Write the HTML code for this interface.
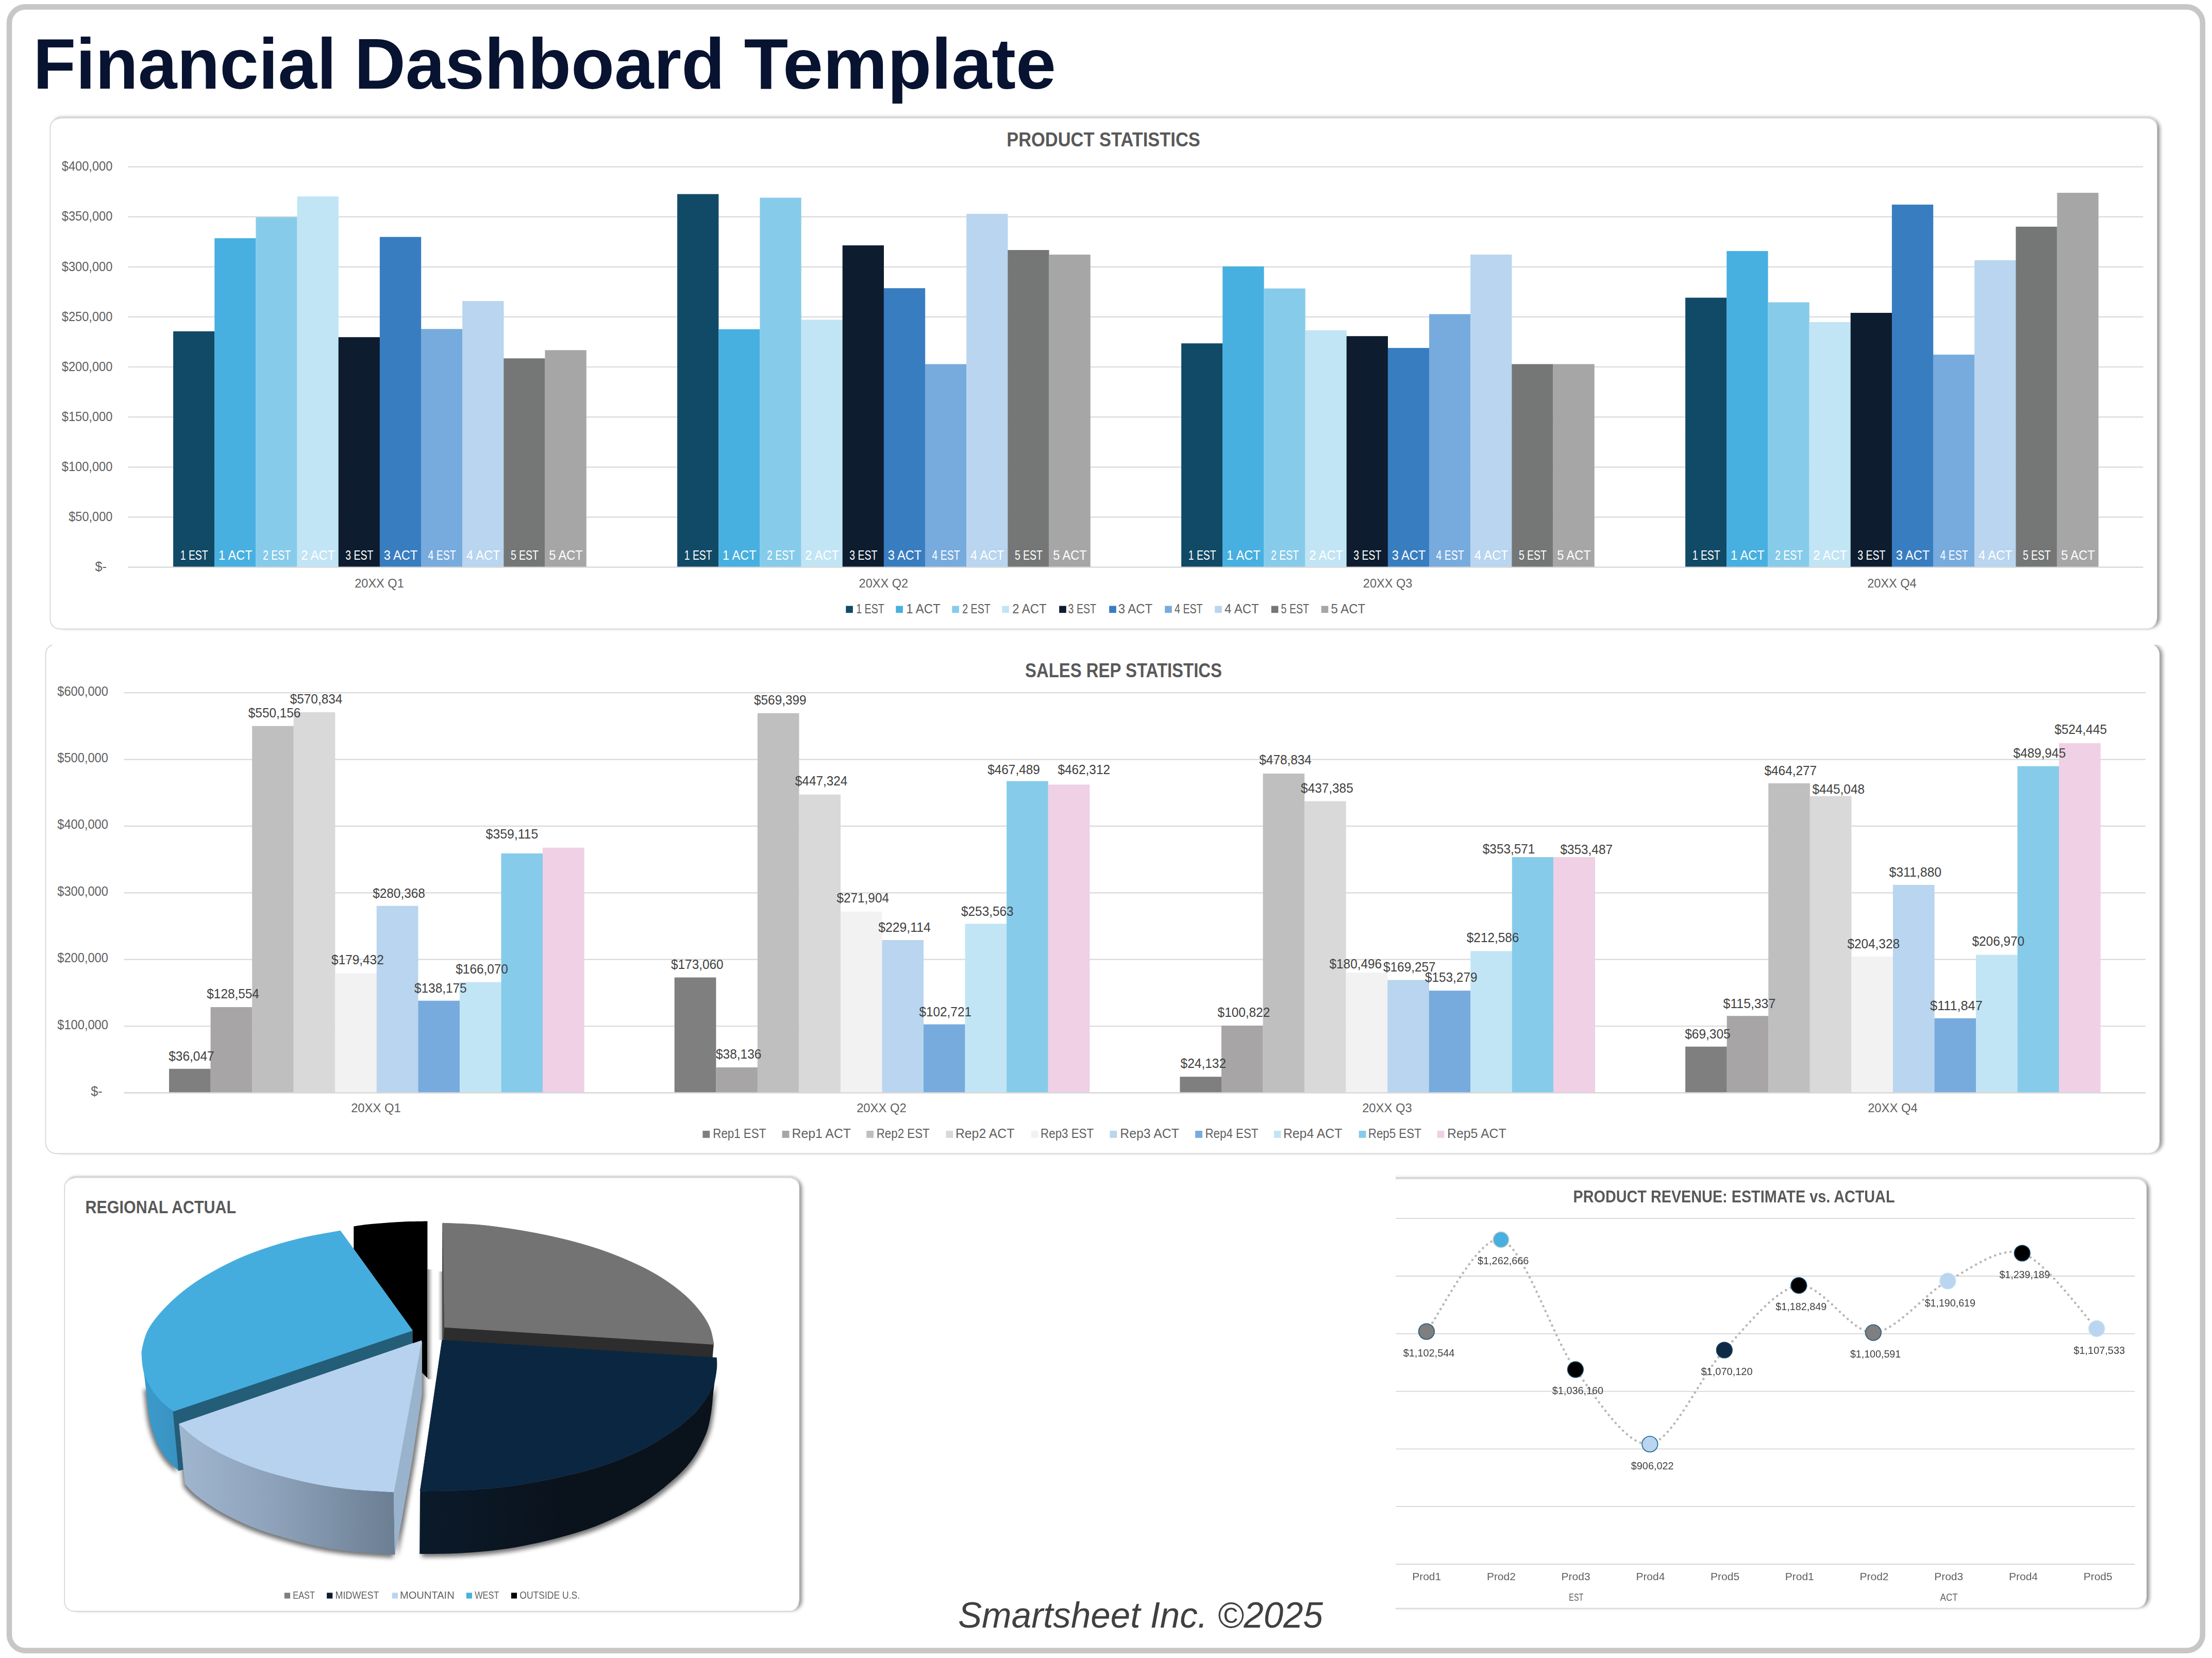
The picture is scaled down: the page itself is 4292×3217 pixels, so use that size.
<!DOCTYPE html>
<html lang="en"><head><meta charset="utf-8"><title>Financial Dashboard Template</title>
<style>html,body{margin:0;padding:0;background:#fff}body{width:4292px;height:3217px;overflow:hidden}svg{display:block}</style></head>
<body>
<svg width="4292" height="3217" viewBox="0 0 4292 3217" font-family='"Liberation Sans", "DejaVu Sans", sans-serif'>
<defs>
<filter id="b3" x="-5%" y="-5%" width="110%" height="110%"><feGaussianBlur stdDeviation="3"/></filter>
<filter id="b4" x="-5%" y="-5%" width="110%" height="110%"><feGaussianBlur stdDeviation="3.8"/></filter>
<filter id="b2" x="-5%" y="-5%" width="110%" height="110%"><feGaussianBlur stdDeviation="2"/></filter>
<filter id="b5" x="-10%" y="-10%" width="120%" height="120%"><feGaussianBlur stdDeviation="4.5"/></filter>
<linearGradient id="gMt" x1="0" x2="1" y1="0" y2="0"><stop offset="0" stop-color="#a0b6ce"/><stop offset=".45" stop-color="#8da2ba"/><stop offset="1" stop-color="#6b7e92"/></linearGradient>
<linearGradient id="gMw" x1="0" x2="1" y1="0" y2="0"><stop offset="0" stop-color="#0b1a2a"/><stop offset=".5" stop-color="#0a121c"/><stop offset="1" stop-color="#0a121b"/></linearGradient>
<linearGradient id="gWw" x1="0" x2="1" y1="0" y2="0"><stop offset="0" stop-color="#3c9bcb"/><stop offset="1" stop-color="#3892c1"/></linearGradient>
<linearGradient id="gSh1" x1="0" x2="1" y1="0" y2="0"><stop offset="0" stop-color="#000" stop-opacity=".45"/><stop offset=".5" stop-color="#000" stop-opacity=".18"/><stop offset="1" stop-color="#000" stop-opacity="0"/></linearGradient>
<linearGradient id="gSh2" x1="1" x2="0" y1="0" y2="0"><stop offset="0" stop-color="#000" stop-opacity=".45"/><stop offset=".5" stop-color="#000" stop-opacity=".18"/><stop offset="1" stop-color="#000" stop-opacity="0"/></linearGradient>
</defs>
<rect x="0.00" y="0.00" width="4292.00" height="3217.00" fill="#ffffff"/>
<rect x="18" y="13.4" width="4255.8" height="3189.2" rx="31" ry="31" fill="none" stroke="#c8c7c5" stroke-width="10.6"/>
<text x="64.3" y="171.9" font-size="139" fill="#071330" font-weight="bold" textLength="588.5" lengthAdjust="spacingAndGlyphs">Financial</text>
<text x="687.5" y="171.9" font-size="139" fill="#071330" font-weight="bold" textLength="718.7" lengthAdjust="spacingAndGlyphs">Dashboard</text>
<text x="1443.6" y="171.9" font-size="139" fill="#071330" font-weight="bold" textLength="605.5" lengthAdjust="spacingAndGlyphs">Template</text>
<clipPath id="pc97_229"><rect x="67.0" y="200.0" width="4158.0" height="1060.4"/></clipPath>
<g clip-path="url(#pc97_229)">
<rect x="106.3" y="230.8" width="4084.7" height="987.6" rx="19" fill="#000" opacity=".40" filter="url(#b4)"/>
<rect x="99.3" y="223.8" width="4087.7" height="990.6" rx="19" fill="#000" opacity=".06" filter="url(#b2)"/>
<rect x="100.3" y="225.8" width="4085.7" height="990.6" rx="19" fill="#d8d8d8"/>
<rect x="97.3" y="229.8" width="4087.7" height="990.6" rx="19" fill="#fff"/>
<path d="M116.3 229.8A19 19 0 0 0 97.3 248.8L97.3 1201.4A19 19 0 0 0 116.3 1220.4L4166.0 1220.4A19 19 0 0 0 4184.5 1201.4" fill="none" stroke="#d6d6d6" stroke-width="1.8"/>
</g>
<clipPath id="pc88_1249"><rect x="58.0" y="1251.0" width="4172.2" height="1027.2"/></clipPath>
<g clip-path="url(#pc88_1249)">
<rect x="97.5" y="1250.0" width="4098.7" height="986.2" rx="21" fill="#000" opacity=".40" filter="url(#b4)"/>
<rect x="88.5" y="1249.0" width="4101.7" height="989.2" rx="21" fill="#fff"/>
<path d="M109.5 1249.0A21 21 0 0 0 88.5 1270.0L88.5 2217.2A21 21 0 0 0 109.5 2238.2L4169.2 2238.2A21 21 0 0 0 4189.7 2217.2" fill="none" stroke="#d6d6d6" stroke-width="1.8"/>
</g>
<clipPath id="pc125_2285"><rect x="95.0" y="2256.0" width="1495.4" height="910.5"/></clipPath>
<g clip-path="url(#pc125_2285)">
<rect x="134.1" y="2286.8" width="1422.3" height="837.7" rx="19" fill="#000" opacity=".40" filter="url(#b4)"/>
<rect x="127.1" y="2279.8" width="1425.3" height="840.7" rx="19" fill="#000" opacity=".06" filter="url(#b2)"/>
<rect x="128.1" y="2281.8" width="1423.3" height="840.7" rx="19" fill="#d8d8d8"/>
<rect x="125.1" y="2285.8" width="1425.3" height="840.7" rx="19" fill="#fff"/>
<path d="M144.1 2285.8A19 19 0 0 0 125.1 2304.8L125.1 3107.5A19 19 0 0 0 144.1 3126.5L1531.4 3126.5A19 19 0 0 0 1549.9 3107.5" fill="none" stroke="#d6d6d6" stroke-width="1.8"/>
</g>
<clipPath id="pc2650_2287"><rect x="2708.0" y="2258.0" width="1496.6" height="902.6"/></clipPath>
<g clip-path="url(#pc2650_2287)">
<rect x="2659.0" y="2288.9" width="1511.6" height="829.7" rx="19" fill="#000" opacity=".40" filter="url(#b4)"/>
<rect x="2652.0" y="2281.9" width="1514.6" height="832.7" rx="19" fill="#000" opacity=".06" filter="url(#b2)"/>
<rect x="2653.0" y="2283.9" width="1512.6" height="832.7" rx="19" fill="#d8d8d8"/>
<rect x="2650.0" y="2287.9" width="1514.6" height="832.7" rx="19" fill="#fff"/>
<path d="M2669.0 2287.9A19 19 0 0 0 2650.0 2306.9L2650.0 3101.6A19 19 0 0 0 2669.0 3120.6L4145.6 3120.6A19 19 0 0 0 4164.1 3101.6" fill="none" stroke="#d6d6d6" stroke-width="1.8"/>
</g>
<line x1="248.8" y1="1100.5" x2="4158.5" y2="1100.5" stroke="#d9d9d9" stroke-width="2.2"/>
<text x="207.0" y="1108.1" font-size="25" text-anchor="end" fill="#606060" textLength="22.4" lengthAdjust="spacingAndGlyphs">$-</text>
<line x1="248.8" y1="1003.4" x2="4158.5" y2="1003.4" stroke="#d9d9d9" stroke-width="2.2"/>
<text x="218.3" y="1011.1" font-size="25.5" text-anchor="end" fill="#606060" textLength="85.0" lengthAdjust="spacingAndGlyphs">$50,000</text>
<line x1="248.8" y1="906.3" x2="4158.5" y2="906.3" stroke="#d9d9d9" stroke-width="2.2"/>
<text x="218.3" y="914.0" font-size="25.5" text-anchor="end" fill="#606060" textLength="98.5" lengthAdjust="spacingAndGlyphs">$100,000</text>
<line x1="248.8" y1="809.2" x2="4158.5" y2="809.2" stroke="#d9d9d9" stroke-width="2.2"/>
<text x="218.3" y="816.9" font-size="25.5" text-anchor="end" fill="#606060" textLength="98.5" lengthAdjust="spacingAndGlyphs">$150,000</text>
<line x1="248.8" y1="712.0" x2="4158.5" y2="712.0" stroke="#d9d9d9" stroke-width="2.2"/>
<text x="218.3" y="719.8" font-size="25.5" text-anchor="end" fill="#606060" textLength="98.5" lengthAdjust="spacingAndGlyphs">$200,000</text>
<line x1="248.8" y1="614.9" x2="4158.5" y2="614.9" stroke="#d9d9d9" stroke-width="2.2"/>
<text x="218.3" y="622.6" font-size="25.5" text-anchor="end" fill="#606060" textLength="98.5" lengthAdjust="spacingAndGlyphs">$250,000</text>
<line x1="248.8" y1="517.8" x2="4158.5" y2="517.8" stroke="#d9d9d9" stroke-width="2.2"/>
<text x="218.3" y="525.5" font-size="25.5" text-anchor="end" fill="#606060" textLength="98.5" lengthAdjust="spacingAndGlyphs">$300,000</text>
<line x1="248.8" y1="420.7" x2="4158.5" y2="420.7" stroke="#d9d9d9" stroke-width="2.2"/>
<text x="218.3" y="428.4" font-size="25.5" text-anchor="end" fill="#606060" textLength="98.5" lengthAdjust="spacingAndGlyphs">$350,000</text>
<line x1="248.8" y1="323.6" x2="4158.5" y2="323.6" stroke="#d9d9d9" stroke-width="2.2"/>
<text x="218.3" y="331.3" font-size="25.5" text-anchor="end" fill="#606060" textLength="98.5" lengthAdjust="spacingAndGlyphs">$400,000</text>
<rect x="336.10" y="642.80" width="80.30" height="457.70" fill="#114a66"/>
<rect x="416.25" y="462.20" width="80.30" height="638.30" fill="#47b0e0"/>
<rect x="496.40" y="421.40" width="80.30" height="679.10" fill="#87cbea"/>
<rect x="576.55" y="381.10" width="80.30" height="719.40" fill="#c1e5f5"/>
<rect x="656.70" y="654.20" width="80.30" height="446.30" fill="#0d1d2f"/>
<rect x="736.85" y="459.70" width="80.30" height="640.80" fill="#397dc1"/>
<rect x="817.00" y="638.30" width="80.30" height="462.20" fill="#77abdd"/>
<rect x="897.15" y="584.10" width="80.30" height="516.40" fill="#b9d5ef"/>
<rect x="977.30" y="695.30" width="80.30" height="405.20" fill="#757777"/>
<rect x="1057.45" y="679.40" width="80.30" height="421.10" fill="#a7a6a7"/>
<text x="376.7" y="1086.4" font-size="26" text-anchor="middle" fill="#ffffff" textLength="54.0" lengthAdjust="spacingAndGlyphs">1 EST</text>
<text x="456.8" y="1086.4" font-size="26" text-anchor="middle" fill="#ffffff" textLength="65.5" lengthAdjust="spacingAndGlyphs">1 ACT</text>
<text x="537.0" y="1086.4" font-size="26" text-anchor="middle" fill="#ffffff" textLength="54.0" lengthAdjust="spacingAndGlyphs">2 EST</text>
<text x="617.1" y="1086.4" font-size="26" text-anchor="middle" fill="#ffffff" textLength="65.5" lengthAdjust="spacingAndGlyphs">2 ACT</text>
<text x="697.3" y="1086.4" font-size="26" text-anchor="middle" fill="#ffffff" textLength="54.0" lengthAdjust="spacingAndGlyphs">3 EST</text>
<text x="777.4" y="1086.4" font-size="26" text-anchor="middle" fill="#ffffff" textLength="65.5" lengthAdjust="spacingAndGlyphs">3 ACT</text>
<text x="857.6" y="1086.4" font-size="26" text-anchor="middle" fill="#ffffff" textLength="54.0" lengthAdjust="spacingAndGlyphs">4 EST</text>
<text x="937.7" y="1086.4" font-size="26" text-anchor="middle" fill="#ffffff" textLength="65.5" lengthAdjust="spacingAndGlyphs">4 ACT</text>
<text x="1017.9" y="1086.4" font-size="26" text-anchor="middle" fill="#ffffff" textLength="54.0" lengthAdjust="spacingAndGlyphs">5 EST</text>
<text x="1098.0" y="1086.4" font-size="26" text-anchor="middle" fill="#ffffff" textLength="65.5" lengthAdjust="spacingAndGlyphs">5 ACT</text>
<text x="736.0" y="1140.0" font-size="23.5" text-anchor="middle" fill="#606060" textLength="95.5" lengthAdjust="spacingAndGlyphs">20XX Q1</text>
<rect x="1314.10" y="376.60" width="80.30" height="723.90" fill="#114a66"/>
<rect x="1394.25" y="638.80" width="80.30" height="461.70" fill="#47b0e0"/>
<rect x="1474.40" y="383.60" width="80.30" height="716.90" fill="#87cbea"/>
<rect x="1554.55" y="620.40" width="80.30" height="480.10" fill="#c1e5f5"/>
<rect x="1634.70" y="476.10" width="80.30" height="624.40" fill="#0d1d2f"/>
<rect x="1714.85" y="559.20" width="80.30" height="541.30" fill="#397dc1"/>
<rect x="1795.00" y="706.50" width="80.30" height="394.00" fill="#77abdd"/>
<rect x="1875.15" y="414.90" width="80.30" height="685.60" fill="#b9d5ef"/>
<rect x="1955.30" y="485.10" width="80.30" height="615.40" fill="#757777"/>
<rect x="2035.45" y="494.00" width="80.30" height="606.50" fill="#a7a6a7"/>
<text x="1354.7" y="1086.4" font-size="26" text-anchor="middle" fill="#ffffff" textLength="54.0" lengthAdjust="spacingAndGlyphs">1 EST</text>
<text x="1434.8" y="1086.4" font-size="26" text-anchor="middle" fill="#ffffff" textLength="65.5" lengthAdjust="spacingAndGlyphs">1 ACT</text>
<text x="1515.0" y="1086.4" font-size="26" text-anchor="middle" fill="#ffffff" textLength="54.0" lengthAdjust="spacingAndGlyphs">2 EST</text>
<text x="1595.1" y="1086.4" font-size="26" text-anchor="middle" fill="#ffffff" textLength="65.5" lengthAdjust="spacingAndGlyphs">2 ACT</text>
<text x="1675.3" y="1086.4" font-size="26" text-anchor="middle" fill="#ffffff" textLength="54.0" lengthAdjust="spacingAndGlyphs">3 EST</text>
<text x="1755.4" y="1086.4" font-size="26" text-anchor="middle" fill="#ffffff" textLength="65.5" lengthAdjust="spacingAndGlyphs">3 ACT</text>
<text x="1835.6" y="1086.4" font-size="26" text-anchor="middle" fill="#ffffff" textLength="54.0" lengthAdjust="spacingAndGlyphs">4 EST</text>
<text x="1915.7" y="1086.4" font-size="26" text-anchor="middle" fill="#ffffff" textLength="65.5" lengthAdjust="spacingAndGlyphs">4 ACT</text>
<text x="1995.9" y="1086.4" font-size="26" text-anchor="middle" fill="#ffffff" textLength="54.0" lengthAdjust="spacingAndGlyphs">5 EST</text>
<text x="2076.0" y="1086.4" font-size="26" text-anchor="middle" fill="#ffffff" textLength="65.5" lengthAdjust="spacingAndGlyphs">5 ACT</text>
<text x="1714.3" y="1140.0" font-size="23.5" text-anchor="middle" fill="#606060" textLength="95.5" lengthAdjust="spacingAndGlyphs">20XX Q2</text>
<rect x="2292.10" y="666.20" width="80.30" height="434.30" fill="#114a66"/>
<rect x="2372.25" y="516.90" width="80.30" height="583.60" fill="#47b0e0"/>
<rect x="2452.40" y="559.70" width="80.30" height="540.80" fill="#87cbea"/>
<rect x="2532.55" y="640.80" width="80.30" height="459.70" fill="#c1e5f5"/>
<rect x="2612.70" y="652.20" width="80.30" height="448.30" fill="#0d1d2f"/>
<rect x="2692.85" y="675.10" width="80.30" height="425.40" fill="#397dc1"/>
<rect x="2773.00" y="609.50" width="80.30" height="491.00" fill="#77abdd"/>
<rect x="2853.15" y="494.00" width="80.30" height="606.50" fill="#b9d5ef"/>
<rect x="2933.30" y="706.50" width="80.30" height="394.00" fill="#757777"/>
<rect x="3013.45" y="706.50" width="80.30" height="394.00" fill="#a7a6a7"/>
<text x="2332.7" y="1086.4" font-size="26" text-anchor="middle" fill="#ffffff" textLength="54.0" lengthAdjust="spacingAndGlyphs">1 EST</text>
<text x="2412.8" y="1086.4" font-size="26" text-anchor="middle" fill="#ffffff" textLength="65.5" lengthAdjust="spacingAndGlyphs">1 ACT</text>
<text x="2493.0" y="1086.4" font-size="26" text-anchor="middle" fill="#ffffff" textLength="54.0" lengthAdjust="spacingAndGlyphs">2 EST</text>
<text x="2573.1" y="1086.4" font-size="26" text-anchor="middle" fill="#ffffff" textLength="65.5" lengthAdjust="spacingAndGlyphs">2 ACT</text>
<text x="2653.3" y="1086.4" font-size="26" text-anchor="middle" fill="#ffffff" textLength="54.0" lengthAdjust="spacingAndGlyphs">3 EST</text>
<text x="2733.4" y="1086.4" font-size="26" text-anchor="middle" fill="#ffffff" textLength="65.5" lengthAdjust="spacingAndGlyphs">3 ACT</text>
<text x="2813.6" y="1086.4" font-size="26" text-anchor="middle" fill="#ffffff" textLength="54.0" lengthAdjust="spacingAndGlyphs">4 EST</text>
<text x="2893.7" y="1086.4" font-size="26" text-anchor="middle" fill="#ffffff" textLength="65.5" lengthAdjust="spacingAndGlyphs">4 ACT</text>
<text x="2973.9" y="1086.4" font-size="26" text-anchor="middle" fill="#ffffff" textLength="54.0" lengthAdjust="spacingAndGlyphs">5 EST</text>
<text x="3054.0" y="1086.4" font-size="26" text-anchor="middle" fill="#ffffff" textLength="65.5" lengthAdjust="spacingAndGlyphs">5 ACT</text>
<text x="2692.6" y="1140.0" font-size="23.5" text-anchor="middle" fill="#606060" textLength="95.5" lengthAdjust="spacingAndGlyphs">20XX Q3</text>
<rect x="3270.10" y="577.60" width="80.30" height="522.90" fill="#114a66"/>
<rect x="3350.25" y="487.10" width="80.30" height="613.40" fill="#47b0e0"/>
<rect x="3430.40" y="586.60" width="80.30" height="513.90" fill="#87cbea"/>
<rect x="3510.55" y="624.90" width="80.30" height="475.60" fill="#c1e5f5"/>
<rect x="3590.70" y="607.00" width="80.30" height="493.50" fill="#0d1d2f"/>
<rect x="3670.85" y="397.00" width="80.30" height="703.50" fill="#397dc1"/>
<rect x="3751.00" y="688.10" width="80.30" height="412.40" fill="#77abdd"/>
<rect x="3831.15" y="505.00" width="80.30" height="595.50" fill="#b9d5ef"/>
<rect x="3911.30" y="439.80" width="80.30" height="660.70" fill="#757777"/>
<rect x="3991.45" y="374.10" width="80.30" height="726.40" fill="#a7a6a7"/>
<text x="3310.7" y="1086.4" font-size="26" text-anchor="middle" fill="#ffffff" textLength="54.0" lengthAdjust="spacingAndGlyphs">1 EST</text>
<text x="3390.8" y="1086.4" font-size="26" text-anchor="middle" fill="#ffffff" textLength="65.5" lengthAdjust="spacingAndGlyphs">1 ACT</text>
<text x="3471.0" y="1086.4" font-size="26" text-anchor="middle" fill="#ffffff" textLength="54.0" lengthAdjust="spacingAndGlyphs">2 EST</text>
<text x="3551.1" y="1086.4" font-size="26" text-anchor="middle" fill="#ffffff" textLength="65.5" lengthAdjust="spacingAndGlyphs">2 ACT</text>
<text x="3631.3" y="1086.4" font-size="26" text-anchor="middle" fill="#ffffff" textLength="54.0" lengthAdjust="spacingAndGlyphs">3 EST</text>
<text x="3711.4" y="1086.4" font-size="26" text-anchor="middle" fill="#ffffff" textLength="65.5" lengthAdjust="spacingAndGlyphs">3 ACT</text>
<text x="3791.6" y="1086.4" font-size="26" text-anchor="middle" fill="#ffffff" textLength="54.0" lengthAdjust="spacingAndGlyphs">4 EST</text>
<text x="3871.7" y="1086.4" font-size="26" text-anchor="middle" fill="#ffffff" textLength="65.5" lengthAdjust="spacingAndGlyphs">4 ACT</text>
<text x="3951.9" y="1086.4" font-size="26" text-anchor="middle" fill="#ffffff" textLength="54.0" lengthAdjust="spacingAndGlyphs">5 EST</text>
<text x="4032.0" y="1086.4" font-size="26" text-anchor="middle" fill="#ffffff" textLength="65.5" lengthAdjust="spacingAndGlyphs">5 ACT</text>
<text x="3670.9" y="1140.0" font-size="23.5" text-anchor="middle" fill="#606060" textLength="95.5" lengthAdjust="spacingAndGlyphs">20XX Q4</text>
<line x1="248.8" y1="1100.5" x2="4158.5" y2="1100.5" stroke="#d9d9d9" stroke-width="2.2"/>
<text x="2141.0" y="283.6" font-size="38" text-anchor="middle" fill="#595959" font-weight="bold" textLength="375.5" lengthAdjust="spacingAndGlyphs">PRODUCT STATISTICS</text>
<rect x="1641.30" y="1175.60" width="13.60" height="13.60" fill="#114a66"/>
<text x="1661.2" y="1190.2" font-size="26" fill="#606060" textLength="54.5" lengthAdjust="spacingAndGlyphs">1 EST</text>
<rect x="1738.30" y="1175.60" width="13.60" height="13.60" fill="#47b0e0"/>
<text x="1758.2" y="1190.2" font-size="26" fill="#606060" textLength="66.5" lengthAdjust="spacingAndGlyphs">1 ACT</text>
<rect x="1847.30" y="1175.60" width="13.60" height="13.60" fill="#87cbea"/>
<text x="1867.2" y="1190.2" font-size="26" fill="#606060" textLength="54.5" lengthAdjust="spacingAndGlyphs">2 EST</text>
<rect x="1944.30" y="1175.60" width="13.60" height="13.60" fill="#c1e5f5"/>
<text x="1964.2" y="1190.2" font-size="26" fill="#606060" textLength="66.5" lengthAdjust="spacingAndGlyphs">2 ACT</text>
<rect x="2055.20" y="1175.60" width="13.60" height="13.60" fill="#0d1d2f"/>
<text x="2072.6" y="1190.2" font-size="26" fill="#606060" textLength="54.5" lengthAdjust="spacingAndGlyphs">3 EST</text>
<rect x="2152.20" y="1175.60" width="13.60" height="13.60" fill="#397dc1"/>
<text x="2169.7" y="1190.2" font-size="26" fill="#606060" textLength="66.5" lengthAdjust="spacingAndGlyphs">3 ACT</text>
<rect x="2260.20" y="1175.60" width="13.60" height="13.60" fill="#77abdd"/>
<text x="2279.1" y="1190.2" font-size="26" fill="#606060" textLength="54.5" lengthAdjust="spacingAndGlyphs">4 EST</text>
<rect x="2357.20" y="1175.60" width="13.60" height="13.60" fill="#b9d5ef"/>
<text x="2376.1" y="1190.2" font-size="26" fill="#606060" textLength="66.5" lengthAdjust="spacingAndGlyphs">4 ACT</text>
<rect x="2466.70" y="1175.60" width="13.60" height="13.60" fill="#757777"/>
<text x="2485.6" y="1190.2" font-size="26" fill="#606060" textLength="54.5" lengthAdjust="spacingAndGlyphs">5 EST</text>
<rect x="2563.70" y="1175.60" width="13.60" height="13.60" fill="#a7a6a7"/>
<text x="2582.6" y="1190.2" font-size="26" fill="#606060" textLength="66.5" lengthAdjust="spacingAndGlyphs">5 ACT</text>
<line x1="240.4" y1="2120.4" x2="4163.1" y2="2120.4" stroke="#d9d9d9" stroke-width="2.2"/>
<text x="198.8" y="2125.8" font-size="25" text-anchor="end" fill="#606060" textLength="22.6" lengthAdjust="spacingAndGlyphs">$-</text>
<line x1="240.4" y1="1991.0" x2="4163.1" y2="1991.0" stroke="#d9d9d9" stroke-width="2.2"/>
<text x="209.9" y="1996.5" font-size="25.5" text-anchor="end" fill="#606060" textLength="98.6" lengthAdjust="spacingAndGlyphs">$100,000</text>
<line x1="240.4" y1="1861.7" x2="4163.1" y2="1861.7" stroke="#d9d9d9" stroke-width="2.2"/>
<text x="209.9" y="1867.2" font-size="25.5" text-anchor="end" fill="#606060" textLength="98.6" lengthAdjust="spacingAndGlyphs">$200,000</text>
<line x1="240.4" y1="1732.3" x2="4163.1" y2="1732.3" stroke="#d9d9d9" stroke-width="2.2"/>
<text x="209.9" y="1737.8" font-size="25.5" text-anchor="end" fill="#606060" textLength="98.6" lengthAdjust="spacingAndGlyphs">$300,000</text>
<line x1="240.4" y1="1602.9" x2="4163.1" y2="1602.9" stroke="#d9d9d9" stroke-width="2.2"/>
<text x="209.9" y="1608.4" font-size="25.5" text-anchor="end" fill="#606060" textLength="98.6" lengthAdjust="spacingAndGlyphs">$400,000</text>
<line x1="240.4" y1="1473.6" x2="4163.1" y2="1473.6" stroke="#d9d9d9" stroke-width="2.2"/>
<text x="209.9" y="1479.1" font-size="25.5" text-anchor="end" fill="#606060" textLength="98.6" lengthAdjust="spacingAndGlyphs">$500,000</text>
<line x1="240.4" y1="1344.2" x2="4163.1" y2="1344.2" stroke="#d9d9d9" stroke-width="2.2"/>
<text x="209.9" y="1349.7" font-size="25.5" text-anchor="end" fill="#606060" textLength="98.6" lengthAdjust="spacingAndGlyphs">$600,000</text>
<rect x="328.00" y="2073.77" width="80.70" height="46.63" fill="#7f7f7f"/>
<rect x="408.55" y="1954.09" width="80.70" height="166.31" fill="#a7a5a6"/>
<rect x="489.10" y="1408.68" width="80.70" height="711.72" fill="#bfbfbf"/>
<rect x="569.65" y="1381.93" width="80.70" height="738.47" fill="#d9d9d9"/>
<rect x="650.20" y="1888.27" width="80.70" height="232.13" fill="#f2f2f2"/>
<rect x="730.75" y="1757.70" width="80.70" height="362.70" fill="#b9d5ef"/>
<rect x="811.30" y="1941.65" width="80.70" height="178.75" fill="#77abdd"/>
<rect x="891.85" y="1905.56" width="80.70" height="214.84" fill="#c1e5f5"/>
<rect x="972.40" y="1655.82" width="80.70" height="464.58" fill="#87cbea"/>
<rect x="1052.95" y="1644.72" width="80.70" height="475.68" fill="#efd0e5"/>
<rect x="1308.70" y="1896.52" width="80.70" height="223.88" fill="#7f7f7f"/>
<rect x="1389.25" y="2071.06" width="80.70" height="49.34" fill="#a7a5a6"/>
<rect x="1469.80" y="1383.79" width="80.70" height="736.61" fill="#bfbfbf"/>
<rect x="1550.35" y="1541.71" width="80.70" height="578.69" fill="#d9d9d9"/>
<rect x="1630.90" y="1768.65" width="80.70" height="351.75" fill="#f2f2f2"/>
<rect x="1711.45" y="1824.00" width="80.70" height="296.40" fill="#b9d5ef"/>
<rect x="1792.00" y="1987.51" width="80.70" height="132.89" fill="#77abdd"/>
<rect x="1872.55" y="1792.37" width="80.70" height="328.03" fill="#c1e5f5"/>
<rect x="1953.10" y="1515.63" width="80.70" height="604.77" fill="#87cbea"/>
<rect x="2033.65" y="1522.32" width="80.70" height="598.08" fill="#efd0e5"/>
<rect x="2289.40" y="2089.18" width="80.70" height="31.22" fill="#7f7f7f"/>
<rect x="2369.95" y="1989.97" width="80.70" height="130.43" fill="#a7a5a6"/>
<rect x="2450.50" y="1500.95" width="80.70" height="619.45" fill="#bfbfbf"/>
<rect x="2531.05" y="1554.57" width="80.70" height="565.83" fill="#d9d9d9"/>
<rect x="2611.60" y="1886.90" width="80.70" height="233.50" fill="#f2f2f2"/>
<rect x="2692.15" y="1901.44" width="80.70" height="218.96" fill="#b9d5ef"/>
<rect x="2772.70" y="1922.11" width="80.70" height="198.29" fill="#77abdd"/>
<rect x="2853.25" y="1845.38" width="80.70" height="275.02" fill="#c1e5f5"/>
<rect x="2933.80" y="1663.00" width="80.70" height="457.40" fill="#87cbea"/>
<rect x="3014.35" y="1663.11" width="80.70" height="457.29" fill="#efd0e5"/>
<rect x="3270.10" y="2030.74" width="80.70" height="89.66" fill="#7f7f7f"/>
<rect x="3350.65" y="1971.19" width="80.70" height="149.21" fill="#a7a5a6"/>
<rect x="3431.20" y="1519.78" width="80.70" height="600.62" fill="#bfbfbf"/>
<rect x="3511.75" y="1544.66" width="80.70" height="575.74" fill="#d9d9d9"/>
<rect x="3592.30" y="1856.07" width="80.70" height="264.33" fill="#f2f2f2"/>
<rect x="3672.85" y="1716.93" width="80.70" height="403.47" fill="#b9d5ef"/>
<rect x="3753.40" y="1975.71" width="80.70" height="144.69" fill="#77abdd"/>
<rect x="3833.95" y="1852.65" width="80.70" height="267.75" fill="#c1e5f5"/>
<rect x="3914.50" y="1486.57" width="80.70" height="633.83" fill="#87cbea"/>
<rect x="3995.05" y="1441.94" width="80.70" height="678.46" fill="#efd0e5"/>
<line x1="240.4" y1="2120.4" x2="4163.1" y2="2120.4" stroke="#d9d9d9" stroke-width="2.2"/>
<text x="371.4" y="2057.6" font-size="25.5" text-anchor="middle" fill="#404040" textLength="88.4" lengthAdjust="spacingAndGlyphs">$36,047</text>
<text x="452.1" y="1937.0" font-size="25.5" text-anchor="middle" fill="#404040" textLength="101.6" lengthAdjust="spacingAndGlyphs">$128,554</text>
<text x="532.6" y="1392.1" font-size="25.5" text-anchor="middle" fill="#404040" textLength="101.6" lengthAdjust="spacingAndGlyphs">$550,156</text>
<text x="613.5" y="1365.2" font-size="25.5" text-anchor="middle" fill="#404040" textLength="101.6" lengthAdjust="spacingAndGlyphs">$570,834</text>
<text x="693.9" y="1871.2" font-size="25.5" text-anchor="middle" fill="#404040" textLength="101.6" lengthAdjust="spacingAndGlyphs">$179,432</text>
<text x="774.0" y="1741.8" font-size="25.5" text-anchor="middle" fill="#404040" textLength="101.6" lengthAdjust="spacingAndGlyphs">$280,368</text>
<text x="854.8" y="1925.9" font-size="25.5" text-anchor="middle" fill="#404040" textLength="101.6" lengthAdjust="spacingAndGlyphs">$138,175</text>
<text x="935.1" y="1888.6" font-size="25.5" text-anchor="middle" fill="#404040" textLength="101.6" lengthAdjust="spacingAndGlyphs">$166,070</text>
<text x="993.4" y="1627.4" font-size="25.5" text-anchor="middle" fill="#404040" textLength="101.6" lengthAdjust="spacingAndGlyphs">$359,115</text>
<text x="729.4" y="2158.3" font-size="23.5" text-anchor="middle" fill="#606060" textLength="96.5" lengthAdjust="spacingAndGlyphs">20XX Q1</text>
<text x="1352.8" y="1880.1" font-size="25.5" text-anchor="middle" fill="#404040" textLength="101.6" lengthAdjust="spacingAndGlyphs">$173,060</text>
<text x="1433.2" y="2054.1" font-size="25.5" text-anchor="middle" fill="#404040" textLength="88.4" lengthAdjust="spacingAndGlyphs">$38,136</text>
<text x="1513.8" y="1367.2" font-size="25.5" text-anchor="middle" fill="#404040" textLength="101.6" lengthAdjust="spacingAndGlyphs">$569,399</text>
<text x="1593.6" y="1524.4" font-size="25.5" text-anchor="middle" fill="#404040" textLength="101.6" lengthAdjust="spacingAndGlyphs">$447,324</text>
<text x="1674.2" y="1750.8" font-size="25.5" text-anchor="middle" fill="#404040" textLength="101.6" lengthAdjust="spacingAndGlyphs">$271,904</text>
<text x="1755.0" y="1808.0" font-size="25.5" text-anchor="middle" fill="#404040" textLength="101.6" lengthAdjust="spacingAndGlyphs">$229,114</text>
<text x="1834.2" y="1971.7" font-size="25.5" text-anchor="middle" fill="#404040" textLength="101.6" lengthAdjust="spacingAndGlyphs">$102,721</text>
<text x="1915.8" y="1776.7" font-size="25.5" text-anchor="middle" fill="#404040" textLength="101.6" lengthAdjust="spacingAndGlyphs">$253,563</text>
<text x="1967.0" y="1501.5" font-size="25.5" text-anchor="middle" fill="#404040" textLength="101.6" lengthAdjust="spacingAndGlyphs">$467,489</text>
<text x="2103.2" y="1501.5" font-size="25.5" text-anchor="middle" fill="#404040" textLength="101.6" lengthAdjust="spacingAndGlyphs">$462,312</text>
<text x="1710.4" y="2158.3" font-size="23.5" text-anchor="middle" fill="#606060" textLength="96.5" lengthAdjust="spacingAndGlyphs">20XX Q2</text>
<text x="2334.8" y="2072.2" font-size="25.5" text-anchor="middle" fill="#404040" textLength="88.4" lengthAdjust="spacingAndGlyphs">$24,132</text>
<text x="2413.4" y="1973.2" font-size="25.5" text-anchor="middle" fill="#404040" textLength="101.6" lengthAdjust="spacingAndGlyphs">$100,822</text>
<text x="2494.1" y="1483.1" font-size="25.5" text-anchor="middle" fill="#404040" textLength="101.6" lengthAdjust="spacingAndGlyphs">$478,834</text>
<text x="2574.9" y="1537.9" font-size="25.5" text-anchor="middle" fill="#404040" textLength="101.6" lengthAdjust="spacingAndGlyphs">$437,385</text>
<text x="2630.3" y="1878.7" font-size="25.5" text-anchor="middle" fill="#404040" textLength="101.6" lengthAdjust="spacingAndGlyphs">$180,496</text>
<text x="2734.8" y="1885.1" font-size="25.5" text-anchor="middle" fill="#404040" textLength="101.6" lengthAdjust="spacingAndGlyphs">$169,257</text>
<text x="2815.7" y="1905.0" font-size="25.5" text-anchor="middle" fill="#404040" textLength="101.6" lengthAdjust="spacingAndGlyphs">$153,279</text>
<text x="2896.6" y="1827.9" font-size="25.5" text-anchor="middle" fill="#404040" textLength="101.6" lengthAdjust="spacingAndGlyphs">$212,586</text>
<text x="2927.6" y="1655.8" font-size="25.5" text-anchor="middle" fill="#404040" textLength="101.6" lengthAdjust="spacingAndGlyphs">$353,571</text>
<text x="3078.2" y="1657.3" font-size="25.5" text-anchor="middle" fill="#404040" textLength="101.6" lengthAdjust="spacingAndGlyphs">$353,487</text>
<text x="2691.4" y="2158.3" font-size="23.5" text-anchor="middle" fill="#606060" textLength="96.5" lengthAdjust="spacingAndGlyphs">20XX Q3</text>
<text x="3313.4" y="2014.5" font-size="25.5" text-anchor="middle" fill="#404040" textLength="88.4" lengthAdjust="spacingAndGlyphs">$69,305</text>
<text x="3394.4" y="1955.8" font-size="25.5" text-anchor="middle" fill="#404040" textLength="101.6" lengthAdjust="spacingAndGlyphs">$115,337</text>
<text x="3474.3" y="1504.0" font-size="25.5" text-anchor="middle" fill="#404040" textLength="101.6" lengthAdjust="spacingAndGlyphs">$464,277</text>
<text x="3567.2" y="1540.3" font-size="25.5" text-anchor="middle" fill="#404040" textLength="101.6" lengthAdjust="spacingAndGlyphs">$445,048</text>
<text x="3635.2" y="1839.8" font-size="25.5" text-anchor="middle" fill="#404040" textLength="101.6" lengthAdjust="spacingAndGlyphs">$204,328</text>
<text x="3716.3" y="1701.0" font-size="25.5" text-anchor="middle" fill="#404040" textLength="101.6" lengthAdjust="spacingAndGlyphs">$311,880</text>
<text x="3795.9" y="1959.7" font-size="25.5" text-anchor="middle" fill="#404040" textLength="101.6" lengthAdjust="spacingAndGlyphs">$111,847</text>
<text x="3877.3" y="1835.4" font-size="25.5" text-anchor="middle" fill="#404040" textLength="101.6" lengthAdjust="spacingAndGlyphs">$206,970</text>
<text x="3957.4" y="1469.7" font-size="25.5" text-anchor="middle" fill="#404040" textLength="101.6" lengthAdjust="spacingAndGlyphs">$489,945</text>
<text x="4037.2" y="1424.4" font-size="25.5" text-anchor="middle" fill="#404040" textLength="101.6" lengthAdjust="spacingAndGlyphs">$524,445</text>
<text x="3672.4" y="2158.3" font-size="23.5" text-anchor="middle" fill="#606060" textLength="96.5" lengthAdjust="spacingAndGlyphs">20XX Q4</text>
<text x="2180.0" y="1313.6" font-size="38" text-anchor="middle" fill="#595959" font-weight="bold" textLength="382.0" lengthAdjust="spacingAndGlyphs">SALES REP STATISTICS</text>
<rect x="1363.40" y="2194.00" width="13.80" height="13.80" fill="#7f7f7f"/>
<text x="1383.3" y="2208.1" font-size="26" fill="#606060" textLength="103.0" lengthAdjust="spacingAndGlyphs">Rep1 EST</text>
<rect x="1517.60" y="2194.00" width="13.80" height="13.80" fill="#a7a5a6"/>
<text x="1536.5" y="2208.1" font-size="26" fill="#606060" textLength="114.5" lengthAdjust="spacingAndGlyphs">Rep1 ACT</text>
<rect x="1681.30" y="2194.00" width="13.80" height="13.80" fill="#bfbfbf"/>
<text x="1700.7" y="2208.1" font-size="26" fill="#606060" textLength="103.0" lengthAdjust="spacingAndGlyphs">Rep2 EST</text>
<rect x="1835.50" y="2194.00" width="13.80" height="13.80" fill="#d9d9d9"/>
<text x="1853.9" y="2208.1" font-size="26" fill="#606060" textLength="114.5" lengthAdjust="spacingAndGlyphs">Rep2 ACT</text>
<rect x="2000.70" y="2194.00" width="13.80" height="13.80" fill="#f2f2f2"/>
<text x="2019.1" y="2208.1" font-size="26" fill="#606060" textLength="103.0" lengthAdjust="spacingAndGlyphs">Rep3 EST</text>
<rect x="2153.40" y="2194.00" width="13.80" height="13.80" fill="#b9d5ef"/>
<text x="2173.3" y="2208.1" font-size="26" fill="#606060" textLength="114.5" lengthAdjust="spacingAndGlyphs">Rep3 ACT</text>
<rect x="2319.10" y="2194.00" width="13.80" height="13.80" fill="#77abdd"/>
<text x="2338.5" y="2208.1" font-size="26" fill="#606060" textLength="103.0" lengthAdjust="spacingAndGlyphs">Rep4 EST</text>
<rect x="2471.80" y="2194.00" width="13.80" height="13.80" fill="#c1e5f5"/>
<text x="2489.9" y="2208.1" font-size="26" fill="#606060" textLength="114.5" lengthAdjust="spacingAndGlyphs">Rep4 ACT</text>
<rect x="2636.70" y="2194.00" width="13.80" height="13.80" fill="#87cbea"/>
<text x="2654.8" y="2208.1" font-size="26" fill="#606060" textLength="103.0" lengthAdjust="spacingAndGlyphs">Rep5 EST</text>
<rect x="2788.60" y="2194.00" width="13.80" height="13.80" fill="#efd0e5"/>
<text x="2808.1" y="2208.1" font-size="26" fill="#606060" textLength="114.5" lengthAdjust="spacingAndGlyphs">Rep5 ACT</text>
<text x="165.6" y="2353.8" font-size="34.5" fill="#595959" font-weight="bold" textLength="292.5" lengthAdjust="spacingAndGlyphs">REGIONAL ACTUAL</text>
<g filter="url(#b5)" opacity=".55" fill="#000">
<clipPath id="cpW"><rect x="200" y="2696" width="300" height="300"/></clipPath>
<g clip-path="url(#cpW)"><path d="M275.6 2632.0L277.0 2650.0C277.5 2653.1 279.0 2661.8 279.9 2668.5C280.8 2675.2 281.7 2683.6 282.5 2690.0C283.3 2696.4 284.0 2701.3 284.6 2707.0C285.2 2712.7 285.5 2716.7 286.4 2724.0C287.3 2731.3 288.1 2741.8 289.8 2750.7C291.5 2759.6 293.6 2768.4 296.4 2777.2C299.2 2786.0 302.6 2795.2 306.7 2803.7C310.8 2812.1 316.2 2821.1 321.2 2827.9C326.2 2834.8 332.6 2840.5 336.9 2844.8C341.2 2849.1 345.4 2852.3 347.1 2853.8L336.5 2738.2L330.0 2700.0L300.0 2640.0Z" transform="translate(-4 4)"/></g>
<path d="M347.6 2762.8C353.4 2767.7 368.7 2782.3 382.4 2791.9C396.1 2801.5 411.4 2811.2 429.9 2820.4C448.4 2829.6 472.1 2839.7 493.2 2847.3C514.3 2855.0 535.5 2860.8 556.6 2866.3C577.7 2871.9 598.8 2876.8 619.9 2880.6C641.0 2884.4 659.2 2887.0 683.2 2889.4C707.2 2891.8 750.5 2893.9 763.9 2894.8L766.1 3016.7C752.3 3015.6 707.6 3013.0 683.2 3010.4C658.8 3007.8 641.0 3005.1 619.9 3000.9C598.8 2996.7 577.7 2991.1 556.6 2985.0C535.5 2978.9 514.3 2972.9 493.2 2964.5C472.1 2956.1 448.4 2944.7 429.9 2934.4C411.4 2924.1 394.3 2911.9 382.4 2902.7C370.5 2893.5 362.6 2882.9 358.7 2879.0Z" transform="translate(-3 6)"/>
<path d="M817.7 2601.2L818.7 2646.3L818.7 2705.0L800.3 2829.9L778.1 2956.6L766.1 3016.7L763.9 2894.8Z" transform="translate(5 5)"/>
<path d="M1390.6 2653.4C1389.8 2658.2 1387.9 2674.6 1386.0 2681.9C1384.1 2689.2 1382.0 2691.7 1379.3 2697.0C1376.6 2702.3 1374.0 2707.2 1369.8 2713.5C1365.6 2719.8 1359.6 2728.5 1354.0 2735.0C1348.4 2741.5 1343.9 2745.7 1336.0 2752.5C1328.1 2759.3 1322.0 2765.8 1306.5 2776.1C1291.0 2786.4 1267.0 2802.5 1243.2 2814.1C1219.5 2825.7 1190.4 2837.1 1164.0 2845.8C1137.6 2854.5 1113.9 2860.0 1084.9 2866.3C1055.9 2872.6 1021.5 2879.5 989.9 2883.7C958.2 2887.9 924.1 2890.1 895.0 2891.7C865.9 2893.3 828.5 2892.9 815.2 2893.2L814.2 3015.1C827.7 3014.8 865.7 3015.3 895.0 3013.5C924.3 3011.7 958.2 3009.0 989.9 3004.0C1021.5 2999.0 1055.9 2991.2 1084.9 2983.5C1113.9 2975.8 1137.6 2968.9 1164.0 2958.1C1190.4 2947.3 1219.5 2933.1 1243.2 2918.6C1267.0 2904.1 1289.6 2885.9 1306.5 2871.1C1323.4 2856.3 1334.0 2844.7 1344.5 2829.9C1355.0 2815.1 1364.0 2796.6 1369.8 2782.4C1375.6 2768.2 1376.9 2757.7 1379.3 2744.5C1381.7 2731.3 1382.3 2717.6 1384.0 2703.3C1385.7 2689.1 1388.5 2666.4 1389.4 2659.0Z" transform="translate(4 6)"/>
</g>
<rect x="830" y="2463" width="10" height="213" fill="url(#gSh1)"/>
<rect x="849.5" y="2467" width="10" height="133" fill="url(#gSh2)"/>
<path d="M275.6 2632.0L277.0 2650.0C277.5 2653.1 279.0 2661.8 279.9 2668.5C280.8 2675.2 281.7 2683.6 282.5 2690.0C283.3 2696.4 284.0 2701.3 284.6 2707.0C285.2 2712.7 285.5 2716.7 286.4 2724.0C287.3 2731.3 288.1 2741.8 289.8 2750.7C291.5 2759.6 293.6 2768.4 296.4 2777.2C299.2 2786.0 302.6 2795.2 306.7 2803.7C310.8 2812.1 316.2 2821.1 321.2 2827.9C326.2 2834.8 332.6 2840.5 336.9 2844.8C341.2 2849.1 345.4 2852.3 347.1 2853.8L336.5 2738.2L330.0 2700.0L300.0 2640.0Z" fill="url(#gWw)"/>
<path d="M800.3 2579.5L335.3 2736.0L346.2 2854.0L355.8 2851.6L347.6 2762.8L800.3 2606.5Z" fill="#245d78"/>
<path d="M686.3 2379.6C691.0 2378.9 702.1 2376.8 714.8 2375.5C727.5 2374.2 749.1 2372.6 762.3 2371.7C775.5 2370.8 782.8 2370.5 794.0 2370.1C805.2 2369.7 823.5 2369.5 829.4 2369.4L829.4 2674.0L818.7 2662.9L818.7 2602.7L800.3 2606.5L800.3 2581.5L686.3 2423.4Z" fill="#000"/>
<path d="M800.3 2581.5L660.4 2388.1C648.4 2390.4 610.8 2396.5 588.2 2401.7C565.6 2406.9 546.0 2412.2 524.9 2419.1C503.8 2426.0 482.7 2433.4 461.6 2442.9C440.5 2452.4 416.8 2465.0 398.3 2476.1C379.8 2487.2 365.1 2497.8 350.8 2509.4C336.6 2521.0 323.4 2533.9 312.8 2545.8C302.2 2557.7 293.6 2569.0 287.5 2580.6C281.4 2592.2 278.4 2606.4 276.4 2615.4C274.4 2624.4 275.0 2626.5 275.5 2634.4C276.0 2642.3 276.8 2653.4 279.6 2662.9C282.4 2672.4 286.9 2682.4 292.2 2691.4C297.5 2700.4 303.8 2708.9 311.2 2716.7C318.6 2724.5 332.3 2734.6 336.5 2738.2Z" fill="#45addd" stroke="#45addd" stroke-width="1" stroke-linejoin="round"/>
<path d="M347.6 2762.8C353.4 2767.7 368.7 2782.3 382.4 2791.9C396.1 2801.5 411.4 2811.2 429.9 2820.4C448.4 2829.6 472.1 2839.7 493.2 2847.3C514.3 2855.0 535.5 2860.8 556.6 2866.3C577.7 2871.9 598.8 2876.8 619.9 2880.6C641.0 2884.4 659.2 2887.0 683.2 2889.4C707.2 2891.8 750.5 2893.9 763.9 2894.8L766.1 3016.7C752.3 3015.6 707.6 3013.0 683.2 3010.4C658.8 3007.8 641.0 3005.1 619.9 3000.9C598.8 2996.7 577.7 2991.1 556.6 2985.0C535.5 2978.9 514.3 2972.9 493.2 2964.5C472.1 2956.1 448.4 2944.7 429.9 2934.4C411.4 2924.1 394.3 2911.9 382.4 2902.7C370.5 2893.5 362.6 2882.9 358.7 2879.0Z" fill="url(#gMt)"/>
<path d="M817.7 2601.2L818.7 2646.3L818.7 2705.0L800.3 2829.9L778.1 2956.6L766.1 3016.7L763.9 2894.8Z" fill="#9ab3cc"/>
<path d="M817.7 2601.2L347.6 2762.8C353.4 2767.7 368.7 2782.3 382.4 2791.9C396.1 2801.5 411.4 2811.2 429.9 2820.4C448.4 2829.6 472.1 2839.7 493.2 2847.3C514.3 2855.0 535.5 2860.8 556.6 2866.3C577.7 2871.9 598.8 2876.8 619.9 2880.6C641.0 2884.4 659.2 2887.0 683.2 2889.4C707.2 2891.8 750.5 2893.9 763.9 2894.8Z" fill="#b7d2ee" stroke="#b7d2ee" stroke-width="1" stroke-linejoin="round"/>
<path d="M860.5 2373.2L863.7 2575.2L861.1 2601.6L858.3 2601.0L857.9 2470.0L858.3 2373.2Z" fill="#4a4a4a"/>
<path d="M862.7 2573.0L1385.0 2606.2L1382.5 2635.0L860.1 2601.6Z" fill="#2d2d2d"/>
<path d="M862.7 2575.2L859.5 2373.2C870.7 2373.7 904.9 2374.6 926.6 2376.4C948.3 2378.2 968.8 2381.1 989.9 2384.3C1011.0 2387.5 1032.1 2391.1 1053.2 2395.4C1074.3 2399.7 1095.5 2404.5 1116.6 2410.3C1137.7 2416.1 1158.8 2422.4 1179.9 2430.2C1201.0 2438.0 1224.7 2448.1 1243.2 2457.1C1261.7 2466.1 1275.9 2474.2 1290.7 2484.0C1305.5 2493.8 1320.2 2505.1 1331.8 2515.7C1343.4 2526.2 1352.6 2537.0 1360.3 2547.3C1368.0 2557.6 1373.6 2567.2 1377.7 2577.4C1381.8 2587.6 1383.8 2603.2 1385.0 2608.4Z" fill="#737373" stroke="#737373" stroke-width="1" stroke-linejoin="round"/>
<path d="M1390.6 2653.4C1389.8 2658.2 1387.9 2674.6 1386.0 2681.9C1384.1 2689.2 1382.0 2691.7 1379.3 2697.0C1376.6 2702.3 1374.0 2707.2 1369.8 2713.5C1365.6 2719.8 1359.6 2728.5 1354.0 2735.0C1348.4 2741.5 1343.9 2745.7 1336.0 2752.5C1328.1 2759.3 1322.0 2765.8 1306.5 2776.1C1291.0 2786.4 1267.0 2802.5 1243.2 2814.1C1219.5 2825.7 1190.4 2837.1 1164.0 2845.8C1137.6 2854.5 1113.9 2860.0 1084.9 2866.3C1055.9 2872.6 1021.5 2879.5 989.9 2883.7C958.2 2887.9 924.1 2890.1 895.0 2891.7C865.9 2893.3 828.5 2892.9 815.2 2893.2L814.2 3015.1C827.7 3014.8 865.7 3015.3 895.0 3013.5C924.3 3011.7 958.2 3009.0 989.9 3004.0C1021.5 2999.0 1055.9 2991.2 1084.9 2983.5C1113.9 2975.8 1137.6 2968.9 1164.0 2958.1C1190.4 2947.3 1219.5 2933.1 1243.2 2918.6C1267.0 2904.1 1289.6 2885.9 1306.5 2871.1C1323.4 2856.3 1334.0 2844.7 1344.5 2829.9C1355.0 2815.1 1364.0 2796.6 1369.8 2782.4C1375.6 2768.2 1376.9 2757.7 1379.3 2744.5C1381.7 2731.3 1382.3 2717.6 1384.0 2703.3C1385.7 2689.1 1388.5 2666.4 1389.4 2659.0Z" fill="url(#gMw)"/>
<path d="M857.9 2600.2L1390.4 2634.4C1390.4 2637.6 1391.3 2645.5 1390.6 2653.4C1389.9 2661.3 1387.9 2674.6 1386.0 2681.9C1384.1 2689.2 1382.0 2691.7 1379.3 2697.0C1376.6 2702.3 1374.0 2707.2 1369.8 2713.5C1365.6 2719.8 1359.6 2728.5 1354.0 2735.0C1348.4 2741.5 1343.9 2745.7 1336.0 2752.5C1328.1 2759.3 1322.0 2765.8 1306.5 2776.1C1291.0 2786.4 1267.0 2802.5 1243.2 2814.1C1219.5 2825.7 1190.4 2837.1 1164.0 2845.8C1137.6 2854.5 1113.9 2860.0 1084.9 2866.3C1055.9 2872.6 1021.5 2879.5 989.9 2883.7C958.2 2887.9 924.1 2890.1 895.0 2891.7C865.9 2893.3 828.5 2892.9 815.2 2893.2Z" fill="#0b2640" stroke="#0b2640" stroke-width="1" stroke-linejoin="round"/>
<rect x="551.80" y="3090.40" width="11.20" height="11.20" fill="#7f7f7f"/>
<text x="568.3" y="3101.5" font-size="19.5" fill="#606060" textLength="42.7" lengthAdjust="spacingAndGlyphs">EAST</text>
<rect x="634.10" y="3090.40" width="11.20" height="11.20" fill="#0d1d2f"/>
<text x="650.6" y="3101.5" font-size="19.5" fill="#606060" textLength="84.8" lengthAdjust="spacingAndGlyphs">MIDWEST</text>
<rect x="760.70" y="3090.40" width="11.20" height="11.20" fill="#b9d5ef"/>
<text x="775.9" y="3101.5" font-size="19.5" fill="#606060" textLength="105.8" lengthAdjust="spacingAndGlyphs">MOUNTAIN</text>
<rect x="904.80" y="3090.40" width="11.20" height="11.20" fill="#47b0e0"/>
<text x="921.2" y="3101.5" font-size="19.5" fill="#606060" textLength="47.2" lengthAdjust="spacingAndGlyphs">WEST</text>
<rect x="991.80" y="3090.40" width="11.20" height="11.20" fill="#000000"/>
<text x="1008.3" y="3101.5" font-size="19.5" fill="#606060" textLength="116.8" lengthAdjust="spacingAndGlyphs">OUTSIDE U.S.</text>
<line x1="2708.2" y1="2364.2" x2="4142.4" y2="2364.2" stroke="#d6d6d6" stroke-width="1.8"/>
<line x1="2708.2" y1="2476.0" x2="4142.4" y2="2476.0" stroke="#d6d6d6" stroke-width="1.8"/>
<line x1="2708.2" y1="2587.8" x2="4142.4" y2="2587.8" stroke="#d6d6d6" stroke-width="1.8"/>
<line x1="2708.2" y1="2699.6" x2="4142.4" y2="2699.6" stroke="#d6d6d6" stroke-width="1.8"/>
<line x1="2708.2" y1="2811.4" x2="4142.4" y2="2811.4" stroke="#d6d6d6" stroke-width="1.8"/>
<line x1="2708.2" y1="2923.2" x2="4142.4" y2="2923.2" stroke="#d6d6d6" stroke-width="1.8"/>
<line x1="2708.2" y1="3035.0" x2="4142.4" y2="3035.0" stroke="#d6d6d6" stroke-width="1.8"/>
<text x="3364.5" y="2333.4" font-size="33" text-anchor="middle" fill="#595959" font-weight="bold" textLength="624.0" lengthAdjust="spacingAndGlyphs">PRODUCT REVENUE: ESTIMATE vs. ACTUAL</text>
<path d="M2767.9 2583.5C2789.9 2556.4 2868.5 2394.2 2912.4 2405.4C2956.3 2416.6 3012.9 2597.0 3056.9 2657.3C3100.8 2717.6 3157.4 2807.7 3201.3 2802.0C3245.3 2796.2 3301.9 2666.3 3345.8 2619.5C3389.7 2572.7 3446.4 2499.3 3490.3 2494.2C3534.2 2489.0 3590.9 2586.9 3634.8 2585.6C3678.7 2584.3 3735.3 2508.9 3779.3 2485.5C3823.2 2462.1 3879.8 2417.5 3923.7 2431.5C3967.7 2445.5 4046.3 2555.7 4068.2 2577.9" fill="none" stroke="#b8b8b8" stroke-width="4.6" stroke-linecap="round" stroke-dasharray="0.1 10.2"/>
<circle cx="2767.9" cy="2583.5" r="15.2" fill="#7f7f7f" stroke="#2b5f80" stroke-width="1.8"/>
<circle cx="2912.4" cy="2405.4" r="15.2" fill="#47b0e0" stroke="#cfcfcf" stroke-width="1.8"/>
<circle cx="3056.9" cy="2657.3" r="15.2" fill="#000000" stroke="#14405c" stroke-width="1.8"/>
<circle cx="3201.3" cy="2802.0" r="15.2" fill="#b9d5ef" stroke="#2f6f9e" stroke-width="1.8"/>
<circle cx="3345.8" cy="2619.5" r="15.2" fill="#0f2a47" stroke="#14405c" stroke-width="1.8"/>
<circle cx="3490.3" cy="2494.2" r="15.2" fill="#000000" stroke="#14405c" stroke-width="1.8"/>
<circle cx="3634.8" cy="2585.6" r="15.2" fill="#7f7f7f" stroke="#2b5f80" stroke-width="1.8"/>
<circle cx="3779.3" cy="2485.5" r="15.2" fill="#b9d5ef" stroke="#c5dcf0" stroke-width="1.8"/>
<circle cx="3923.7" cy="2431.5" r="15.2" fill="#000000" stroke="#14405c" stroke-width="1.8"/>
<circle cx="4068.2" cy="2577.9" r="15.2" fill="#b9d5ef" stroke="#c5dcf0" stroke-width="1.8"/>
<text x="2722.7" y="2632.0" font-size="21" fill="#404040" textLength="99.7" lengthAdjust="spacingAndGlyphs">$1,102,544</text>
<text x="2867.0" y="2453.2" font-size="21" fill="#404040" textLength="99.4" lengthAdjust="spacingAndGlyphs">$1,262,666</text>
<text x="3011.8" y="2704.7" font-size="21" fill="#404040" textLength="99.3" lengthAdjust="spacingAndGlyphs">$1,036,160</text>
<text x="3164.8" y="2851.2" font-size="21" fill="#404040" textLength="82.7" lengthAdjust="spacingAndGlyphs">$906,022</text>
<text x="3300.5" y="2668.1" font-size="21" fill="#404040" textLength="100.1" lengthAdjust="spacingAndGlyphs">$1,070,120</text>
<text x="3445.2" y="2541.9" font-size="21" fill="#404040" textLength="99.0" lengthAdjust="spacingAndGlyphs">$1,182,849</text>
<text x="3589.9" y="2633.8" font-size="21" fill="#404040" textLength="98.3" lengthAdjust="spacingAndGlyphs">$1,100,591</text>
<text x="3734.7" y="2535.4" font-size="21" fill="#404040" textLength="98.2" lengthAdjust="spacingAndGlyphs">$1,190,619</text>
<text x="3879.4" y="2480.0" font-size="21" fill="#404040" textLength="98.3" lengthAdjust="spacingAndGlyphs">$1,239,189</text>
<text x="4023.4" y="2626.9" font-size="21" fill="#404040" textLength="99.7" lengthAdjust="spacingAndGlyphs">$1,107,533</text>
<text x="2768.2" y="3066.0" font-size="19.5" text-anchor="middle" fill="#606060" textLength="56.0" lengthAdjust="spacingAndGlyphs">Prod1</text>
<text x="2912.9" y="3066.0" font-size="19.5" text-anchor="middle" fill="#606060" textLength="56.0" lengthAdjust="spacingAndGlyphs">Prod2</text>
<text x="3057.6" y="3066.0" font-size="19.5" text-anchor="middle" fill="#606060" textLength="56.0" lengthAdjust="spacingAndGlyphs">Prod3</text>
<text x="3202.4" y="3066.0" font-size="19.5" text-anchor="middle" fill="#606060" textLength="56.0" lengthAdjust="spacingAndGlyphs">Prod4</text>
<text x="3347.1" y="3066.0" font-size="19.5" text-anchor="middle" fill="#606060" textLength="56.0" lengthAdjust="spacingAndGlyphs">Prod5</text>
<text x="3491.8" y="3066.0" font-size="19.5" text-anchor="middle" fill="#606060" textLength="56.0" lengthAdjust="spacingAndGlyphs">Prod1</text>
<text x="3636.5" y="3066.0" font-size="19.5" text-anchor="middle" fill="#606060" textLength="56.0" lengthAdjust="spacingAndGlyphs">Prod2</text>
<text x="3781.2" y="3066.0" font-size="19.5" text-anchor="middle" fill="#606060" textLength="56.0" lengthAdjust="spacingAndGlyphs">Prod3</text>
<text x="3926.0" y="3066.0" font-size="19.5" text-anchor="middle" fill="#606060" textLength="56.0" lengthAdjust="spacingAndGlyphs">Prod4</text>
<text x="4070.7" y="3066.0" font-size="19.5" text-anchor="middle" fill="#606060" textLength="56.0" lengthAdjust="spacingAndGlyphs">Prod5</text>
<text x="3058.3" y="3106.0" font-size="19.5" text-anchor="middle" fill="#606060" textLength="28.0" lengthAdjust="spacingAndGlyphs">EST</text>
<text x="3781.6" y="3106.0" font-size="19.5" text-anchor="middle" fill="#606060" textLength="34.0" lengthAdjust="spacingAndGlyphs">ACT</text>
<text x="1859.0" y="3158.0" font-size="71" fill="#404040" font-style="italic" textLength="708.0" lengthAdjust="spacingAndGlyphs">Smartsheet Inc. ©2025</text>
</svg>
</body></html>
